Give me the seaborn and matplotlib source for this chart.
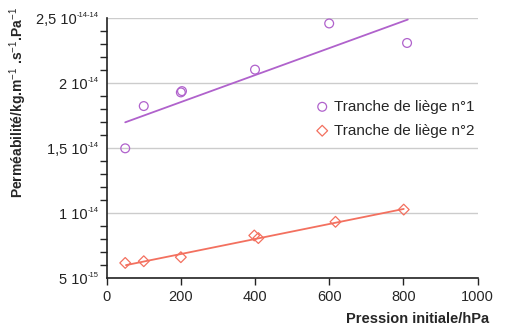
import matplotlib
matplotlib.use("Agg")
import matplotlib.pyplot as plt
import seaborn as sns
import pandas as pd
from matplotlib.ticker import MultipleLocator

# --- Données ---
pression_1 = [50, 100, 200, 203, 400, 600, 810]
permea_1 = [1.50e-14, 1.825e-14, 1.93e-14, 1.94e-14, 2.105e-14, 2.46e-14, 2.31e-14]
pression_2 = [50, 100, 200, 398, 409, 617, 801]
permea_2 = [6.19e-15, 6.32e-15, 6.63e-15, 8.30e-15, 8.10e-15, 9.35e-15, 1.029e-14]

# droites de tendance (extrémités)
fit_x1 = [50, 812]
fit_y1 = [1.70e-14, 2.49e-14]
fit_x2 = [52, 801]
fit_y2 = [6.02e-15, 1.034e-14]

yticks = [5e-15, 1e-14, 1.5e-14, 2e-14, 2.5e-14]
ytick_base = ['5 10', '1 10', '1,5 10', '2 10', '2,5 10']
ytick_exp = ['-15', '-14', '-14', '-14', '-14-14']
xticks = [0, 200, 400, 600, 800, 1000]

VIOLET = '#b062cc'
ORANGE = '#f3705f'

sns.set_style('white')
plt.rcParams['font.family'] = ['Liberation Sans', 'DejaVu Sans']
plt.rcParams['mathtext.fontset'] = 'custom'
plt.rcParams['mathtext.rm'] = 'Liberation Sans'
plt.rcParams['mathtext.it'] = 'Liberation Sans'
plt.rcParams['mathtext.bf'] = 'Liberation Sans:bold'

fig = plt.figure(figsize=(5.08, 3.26), dpi=100)
ax = fig.add_axes([0.210, 0.146, 0.730, 0.798])

df1 = pd.DataFrame({'p': pression_1, 'k': permea_1})
df2 = pd.DataFrame({'p': pression_2, 'k': permea_2})

sns.lineplot(x=fit_x1, y=fit_y1, ax=ax, color=VIOLET, lw=1.3)
sns.lineplot(x=fit_x2, y=fit_y2, ax=ax, color=ORANGE, lw=1.3)
sns.scatterplot(data=df1, x='p', y='k', ax=ax, marker='o', s=40,
                facecolor='none', edgecolor=VIOLET, linewidth=0.9,
                label='Tranche de liège n°1', zorder=3)
sns.scatterplot(data=df2, x='p', y='k', ax=ax, marker='D', s=30,
                facecolor='none', edgecolor=ORANGE, linewidth=0.9,
                label='Tranche de liège n°2', zorder=3)

ax.set_xlim(0, 1000)
ax.set_ylim(5e-15, 2.5e-14)
ax.set_xticks(xticks)
ax.set_yticks(yticks)
ax.set_yticklabels([])
ax.yaxis.set_minor_locator(MultipleLocator(1e-15))
ax.tick_params(axis='both', labelsize=10.5, color='#222222', direction='out')
ax.tick_params(axis='y', which='major', length=5, width=1, pad=2)
ax.tick_params(axis='y', which='minor', length=5, width=1, left=True)
ax.tick_params(axis='x', which='major', length=5, width=1, bottom=True)

# étiquettes de l'axe y : base + petit exposant
ytrans = ax.get_yaxis_transform()
for yv, base, exp in zip(yticks, ytick_base, ytick_exp):
    sup = ax.annotate(exp, xy=(0, yv), xycoords=ytrans, xytext=(-5.5, -0.3),
                      textcoords='offset points', ha='right', va='bottom',
                      fontsize=5.5, color='#222222')
    ax.annotate(base, xy=(0, yv), xycoords=(sup, ytrans), xytext=(-0.3, 0),
                textcoords='offset points', ha='right', va='center_baseline',
                fontsize=10.5, color='#222222')

ax.yaxis.grid(True, color='#cccccc', lw=1)
ax.xaxis.grid(False)
sns.despine(ax=ax)
for s in ['left', 'bottom']:
    ax.spines[s].set_color('#222222')
    ax.spines[s].set_linewidth(1.2)

ax.set_xlabel('Pression initiale/hPa', fontsize=10.5, fontweight='bold')
ax.xaxis.set_label_coords(1.03, -0.155)
ax.xaxis.label.set_ha('right')
ax.xaxis.label.set_va('center')
ax.set_ylabel(r'Perméabilité/kg.m$^{-1}$ .s$^{-1}$.Pa$^{-1}$', fontsize=10,
              fontweight='bold')
ax.yaxis.set_label_coords(-0.239, 0.678)
ax.yaxis.label.set_va('center')
ax.yaxis.label.set_ha('center')

ax.legend(loc='upper left', bbox_to_anchor=(0.54, 0.71), frameon=False,
          fontsize=11, handletextpad=0.2, labelspacing=0.65,
          borderaxespad=0, handlelength=1.2)

plt.savefig('out.png', dpi=100)
plt.close()
